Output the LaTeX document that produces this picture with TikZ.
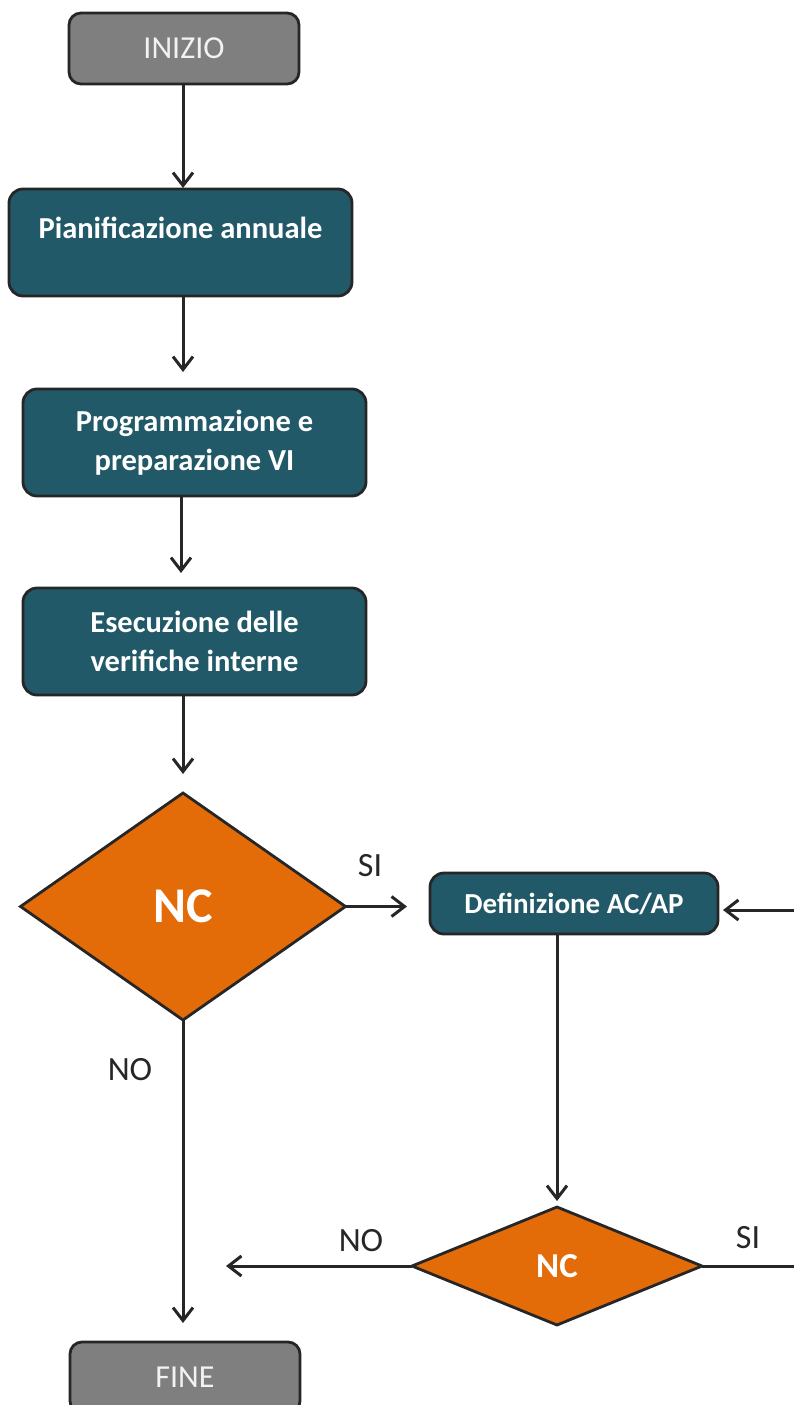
\documentclass[tikz,border=0pt]{standalone}
\usepackage{fontspec}
\setmainfont{Carlito}
\usetikzlibrary{arrows.meta,shapes.geometric}
\definecolor{teal}{HTML}{215968}
\definecolor{orng}{HTML}{E36C09}
\definecolor{gry}{HTML}{7F7F7F}
\definecolor{edge}{HTML}{262626}
\definecolor{lite}{HTML}{F2F2F2}
\definecolor{lbl}{HTML}{262626}
\tikzset{
  termbox/.style={draw=edge, line width=2.8pt, fill=gry, rounded corners=12pt,
    minimum width=230pt, minimum height=71pt, inner sep=0pt, outer sep=0pt,
    text=lite, font=\fontsize{32}{36}\selectfont},
  procbox/.style={draw=edge, line width=2.8pt, fill=teal, rounded corners=14pt,
    inner sep=0pt, outer sep=0pt, text=white, align=center,
    font=\bfseries\fontsize{30.5}{39.5}\selectfont},
  decis/.style={diamond, draw=edge, line width=2.8pt, fill=orng, inner sep=0pt,
    outer sep=0pt, text=white},
  conn/.style={draw=edge, line width=3pt, -{Straight Barb[length=13pt,width=20pt]}},
  lab/.style={text=lbl, font=\fontsize{34}{36}\selectfont, inner sep=0pt}
}
\begin{document}
\begin{tikzpicture}[x=1pt,y=-1pt]
\useasboundingbox (0,0) rectangle (793,1405);
\node[termbox] (inizio) at (184,48.5) {INIZIO};
\node[procbox, minimum width=343pt, minimum height=107pt] (pian) at (180.5,242.5)
  {\raisebox{12pt}[0.7em][0.2em]{Pianificazione annuale}};
\node[procbox, minimum width=343pt, minimum height=107pt] (prog) at (194.5,442.5)
  {Programmazione e\\preparazione VI};
\node[procbox, minimum width=343pt, minimum height=107pt] (esec) at (194.5,641.5)
  {Esecuzione delle\\verifiche interne};
\node[decis, minimum width=325pt, minimum height=227pt,
  font=\bfseries\fontsize{50}{52}\selectfont] (nc1) at (183,906.5) {NC};
\node[procbox, minimum width=288pt, minimum height=61pt,
  font=\bfseries\fontsize{29}{34}\selectfont] (def) at (574,903.5) {Definizione AC/AP};
\node[decis, minimum width=290pt, minimum height=118pt,
  font=\bfseries\fontsize{35}{36}\selectfont] (nc2) at (557,1266) {NC};
\node[termbox] (fine) at (185,1377.5) {FINE};

\node[lab] (si1) at (370,866) {SI};
\node[lab] (no1) at (130,1070) {NO};
\node[lab] (no2) at (361,1241) {NO};
\node[lab] (si2) at (748,1238) {SI};

\coordinate (noend) at (226,1266);
\coordinate (loopa) at (840,1266);
\coordinate (loopb) at (840,910);

\draw[conn, shorten >=1pt] (inizio.south -| 183,0) -- (pian.north -| 183,0);
\draw[conn, shorten >=17pt] (pian.south -| 183,0) -- (prog.north -| 183,0);
\draw[conn, shorten >=15pt] (prog.south -| 181,0) -- (esec.north -| 181,0);
\draw[conn, shorten >=19pt] (esec.south -| 183,0) -- (nc1.north);
\draw[conn, shorten >=23pt] (nc1.east) -- (def.west |- nc1.east);
\draw[conn, shorten >=6pt] (nc2.north |- def.south) -- (nc2.north);
\draw[conn] (nc2.west) -- (noend);
\draw[conn, shorten >=5pt] (nc2.east) -- (loopa) -- (loopb) -- (def.east |- loopb);
\draw[conn, shorten >=19pt] (nc1.south) -- (fine.north -| nc1.south);
\end{tikzpicture}
\end{document}
